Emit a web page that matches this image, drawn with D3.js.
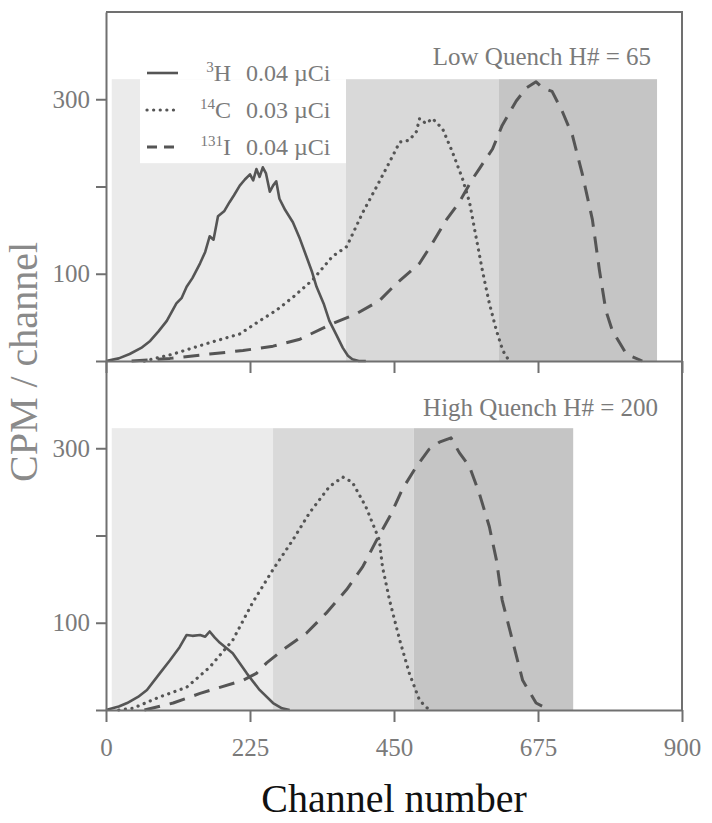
<!DOCTYPE html>
<html>
<head>
<meta charset="utf-8">
<script src="https://cdn.jsdelivr.net/npm/d3@7"></script>
<style>
  body { margin: 0; background: #fff; }
  svg { font-family: "Liberation Serif", "DejaVu Serif", serif; }
</style>
</head>
<body>
<div id="chart"></div>
<script>
var svgWidth = 712;
var svgHeight = 823;

// channel axis ticks and CPM ticks
var xTicks = [0, 225, 450, 675, 900];
var yTicks = [0, 100, 200, 300];
var yLabelled = [100, 300];

// counting windows (channel edges) and their height in CPM
var lowWindowEdges = [9, 375, 614, 861];
var highWindowEdges = [9, 261, 481, 730];
var windowTop = 323;

// Low quench, H# = 65
var lowH3Channel = [0, 20, 37, 55, 69, 82, 95, 110, 118, 126, 135, 147, 155, 162, 168, 175, 185, 193, 200, 209, 217, 225, 230, 235, 240, 245, 250, 256, 261, 266, 271, 280, 292, 303, 313, 322, 329, 340, 349, 360, 370, 378, 385, 395, 406];
var lowH3Cpm = [0, 3, 8, 15, 23, 34, 46, 66, 72, 85, 95, 112, 125, 143, 139, 166, 172, 182, 190, 201, 208, 214, 207, 220, 211, 222, 215, 194, 201, 206, 186, 173, 159, 140, 120, 102, 85, 66, 46, 30, 15, 6, 2, 0, 0];

var lowC14Channel = [60, 105, 162, 209, 240, 266, 292, 323, 354, 376, 401, 423, 443, 459, 474, 485, 490, 500, 510, 526, 541, 557, 568, 578, 588, 599, 610, 620, 630];
var lowC14Cpm = [0, 8, 21, 31, 46, 58, 73, 93, 120, 131, 170, 200, 228, 251, 253, 263, 278, 272, 278, 266, 240, 209, 182, 143, 104, 66, 35, 12, 0];

var lowI131Channel = [40, 100, 162, 214, 261, 303, 354, 391, 427, 454, 490, 510, 532, 552, 573, 583, 604, 619, 641, 657, 672, 682, 697, 713, 729, 744, 760, 771, 781, 791, 813, 838];
var lowI131Cpm = [0, 3, 8, 12, 17, 25, 43, 54, 69, 89, 112, 135, 162, 182, 209, 220, 243, 270, 298, 313, 320, 313, 309, 286, 258, 215, 162, 104, 58, 35, 8, 0];

// High quench, H# = 200
var highH3Channel = [0, 20, 33, 50, 64, 84, 100, 115, 126, 135, 147, 155, 162, 170, 178, 198, 220, 240, 261, 275, 287];
var highH3Cpm = [0, 4, 8, 15, 23, 42, 57, 72, 86, 85, 86, 84, 90, 83, 77, 65, 42, 23, 8, 2, 0];

var highC14Channel = [20, 42, 84, 126, 162, 198, 229, 261, 292, 318, 349, 370, 385, 406, 427, 432, 443, 459, 474, 490, 505];
var highC14Cpm = [0, 2, 15, 26, 49, 80, 123, 161, 195, 226, 256, 267, 261, 233, 195, 164, 126, 80, 42, 11, 0];

var highI131Channel = [60, 105, 147, 178, 214, 235, 251, 282, 313, 344, 376, 401, 423, 445, 463, 485, 505, 521, 539, 552, 568, 583, 599, 610, 619, 635, 651, 672, 693];
var highI131Cpm = [0, 8, 19, 26, 34, 42, 54, 72, 88, 111, 138, 164, 195, 224, 253, 279, 299, 307, 312, 295, 279, 249, 210, 172, 126, 80, 34, 8, 0];

var legendIsotopes = [["3", "H"], ["14", "C"], ["131", "I"]];
var legendActivity = ["0.04 \u00b5Ci", "0.03 \u00b5Ci", "0.04 \u00b5Ci"];

var axisColor = "#707070";
var curveColor = "#555";
var textColor = "#7a7a7a";
var shades = ["#ebebeb", "#d9d9d9", "#c5c5c5"];

// dash styles: solid, dotted, dashed
var styles = [
  { dash: null, width: 2.6, cap: "butt" },
  { dash: "0.1 6.5", width: 3.2, cap: "round" },
  { dash: "16 10", width: 3, cap: "butt" }
];

var svg = d3.select("#chart")
  .append("svg")
  .attr("width", svgWidth)
  .attr("height", svgHeight);

var xScale = d3.scaleLinear().domain([0, 900]).range([106, 682]);

var panels = [
  {
    top: 12, bottom: 361,
    edges: lowWindowEdges,
    title: "Low Quench H# = 65", titleX: 651, titleY: 65,
    series: [[lowH3Channel, lowH3Cpm], [lowC14Channel, lowC14Cpm], [lowI131Channel, lowI131Cpm]],
    labels: false
  },
  {
    top: 361, bottom: 710,
    edges: highWindowEdges,
    title: "High Quench H# = 200", titleX: 658, titleY: 416,
    series: [[highH3Channel, highH3Cpm], [highC14Channel, highC14Cpm], [highI131Channel, highI131Cpm]],
    labels: true
  }
];

panels.forEach(function(p, pi) {
  var yScale = d3.scaleLinear().domain([0, 400]).range([p.bottom, p.top]);
  var g = svg.append("g");

  // counting windows
  for (var i = 0; i < 3; i++) {
    g.append("rect")
      .attr("x", xScale(p.edges[i]))
      .attr("y", yScale(windowTop))
      .attr("width", xScale(p.edges[i + 1]) - xScale(p.edges[i]))
      .attr("height", yScale(0) - yScale(windowTop))
      .attr("fill", shades[i]);
  }

  // white legend backing in the top panel
  if (pi === 0) {
    g.append("rect")
      .attr("x", 140).attr("y", yScale(windowTop))
      .attr("width", xScale(p.edges[1]) - 140)
      .attr("height", 84)
      .attr("fill", "#fff");
  }

  // spectra
  p.series.forEach(function(s, si) {
    var line = d3.line()
      .x(d => xScale(d[0]))
      .y(d => yScale(d[1]));
    g.append("path")
      .datum(d3.zip(s[0], s[1]))
      .attr("d", line)
      .attr("fill", "none")
      .attr("stroke", curveColor)
      .attr("stroke-width", styles[si].width)
      .attr("stroke-linecap", styles[si].cap)
      .attr("stroke-linejoin", "round")
      .attr("stroke-dasharray", styles[si].dash);
  });

  // y axis
  var yAxis = g.append("g")
    .attr("transform", `translate(${xScale(0)},0)`)
    .call(d3.axisLeft(yScale)
      .tickValues(yTicks)
      .tickSize(10)
      .tickSizeOuter(0)
      .tickPadding(6)
      .tickFormat(d => yLabelled.indexOf(d) >= 0 ? d : ""));

  // x axis
  var xAxis = g.append("g")
    .attr("transform", `translate(0,${yScale(0)})`)
    .call(d3.axisBottom(xScale)
      .tickValues(xTicks)
      .tickSize(12)
      .tickSizeOuter(0)
      .tickPadding(16)
      .tickFormat(d => p.labels ? d : ""));

  [yAxis, xAxis].forEach(function(a) {
    a.selectAll("path, line").attr("stroke", axisColor).attr("stroke-width", 2);
    a.selectAll("text")
      .attr("fill", textColor)
      .style("font-size", "25px")
      .style("font-family", "Liberation Serif, serif");
  });

  g.append("text")
    .attr("x", p.titleX)
    .attr("y", p.titleY)
    .attr("text-anchor", "end")
    .attr("fill", textColor)
    .style("font-size", "25px")
    .text(p.title);
});

// frame top and right
svg.append("path")
  .attr("d", `M${xScale(0)},12 H${xScale(900)} V710`)
  .attr("fill", "none")
  .attr("stroke", axisColor)
  .attr("stroke-width", 2);

// legend
var legend = svg.append("g");
legendIsotopes.forEach(function(iso, i) {
  var cy = 73 + i * 37;
  var sample = legend.append("line")
    .attr("x1", 147).attr("x2", i < 2 ? 178 : 174)
    .attr("y1", cy).attr("y2", cy)
    .attr("stroke", curveColor)
    .attr("stroke-width", styles[i].width)
    .attr("stroke-linecap", styles[i].cap)
    .attr("stroke-dasharray", i < 2 ? styles[i].dash : "10 7");
  var t = legend.append("text")
    .attr("x", 231)
    .attr("y", cy + 8)
    .attr("text-anchor", "end")
    .attr("fill", textColor)
    .style("font-size", "24px");
  t.append("tspan")
    .attr("dy", -9)
    .style("font-size", "15px")
    .text(iso[0]);
  t.append("tspan")
    .attr("dy", 9)
    .text(iso[1]);
  legend.append("text")
    .attr("x", 246)
    .attr("y", cy + 8)
    .attr("fill", textColor)
    .style("font-size", "24px")
    .text(legendActivity[i]);
});

// axis titles
svg.append("text")
  .attr("transform", "translate(37,362) rotate(-90)")
  .attr("text-anchor", "middle")
  .attr("fill", "#8a8a8a")
  .style("font-size", "40px")
  .text("CPM / channel");

svg.append("text")
  .attr("x", 394)
  .attr("y", 812)
  .attr("text-anchor", "middle")
  .attr("fill", "#111")
  .style("font-size", "40px")
  .text("Channel number");
</script>
</body>
</html>
